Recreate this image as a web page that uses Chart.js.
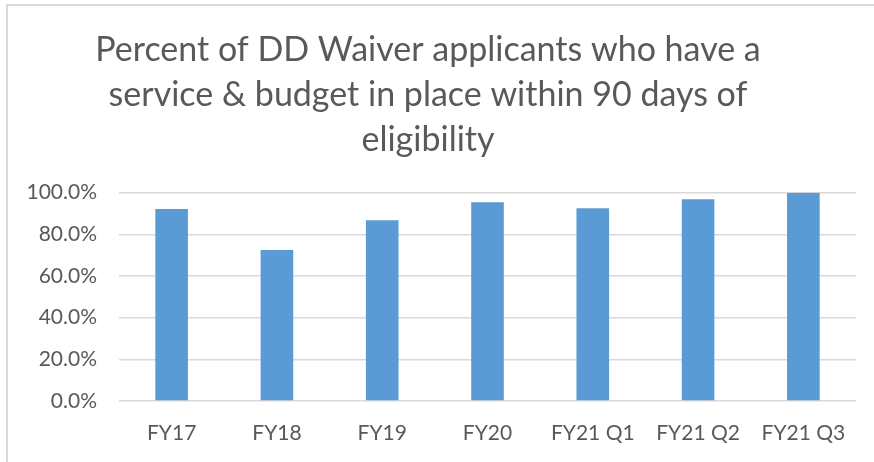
<!DOCTYPE html>
<html lang="en">
<head>
  <meta charset="UTF-8" />
  <title>DD Waiver - service & budget within 90 days</title>
  <style>
    * {
      box-sizing: border-box;
      margin: 0;
      padding: 0;
    }
    html, body {
      width: 874px;
      height: 462px;
      overflow: hidden;
      background: #ffffff;
    }
    .frame {
      position: absolute;
      left: 6px;
      top: 4px;
      width: 900px;
      height: 500px;
      border-left: 2px solid #d9d9d9;
      border-top: 2px solid #d9d9d9;
    }
    .wrap {
      position: absolute;
      left: 0;
      top: 0;
      width: 874px;
      height: 462px;
    }
  </style>
</head>
<body>
  <div class="frame"></div>
  <div class="wrap">
    <canvas id="waiverChart" width="874" height="462"></canvas>
  </div>

  <script src="https://cdn.jsdelivr.net/npm/chart.js"></script>
  <script>
const periods = ['FY17', 'FY18', 'FY19', 'FY20', 'FY21 Q1', 'FY21 Q2', 'FY21 Q3'];
const pctInPlace = [92.1, 72.5, 86.8, 95.4, 92.5, 96.8, 100.0];
const titleLines = [
  'Percent of DD Waiver applicants who have a',
  'service & budget in place within 90 days of',
  'eligibility'
];

const textGray = '#595959';
const gridGray = '#d9d9d9';
const font = 'Lato, "Open Sans", sans-serif';

new Chart(document.getElementById('waiverChart'), {
  type: 'bar',
  data: {
    labels: periods,
    datasets: [{
      data: pctInPlace,
      backgroundColor: '#5b9bd5',
      categoryPercentage: 1,
      barPercentage: 0.31
    }]
  },
  options: {
    responsive: false,
    animation: false,
    layout: { padding: { left: 0, right: 18, top: 0, bottom: 0 } },
    plugins: {
      legend: { display: false },
      tooltip: { enabled: false },
      title: {
        display: true,
        text: titleLines,
        color: textGray,
        font: { family: font, size: 34, weight: 'normal', lineHeight: 1.32 },
        padding: { top: 28, bottom: 30 }
      }
    },
    scales: {
      x: {
        grid: { display: false, drawTicks: false },
        border: { display: false },
        ticks: {
          color: textGray,
          font: { family: font, size: 21 },
          padding: 20,
          maxRotation: 0
        },
        afterFit: (scale) => { scale.height = 61; }
      },
      y: {
        min: 0,
        max: 100,
        ticks: {
          stepSize: 20,
          color: textGray,
          font: { family: font, size: 21 },
          padding: 22,
          callback: (v) => v.toFixed(1) + '%'
        },
        grid: { color: gridGray, lineWidth: 1.5, drawTicks: false },
        border: { display: false },
        afterFit: (scale) => { scale.width = 119; }
      }
    }
  }
});
  </script>
</body>
</html>
